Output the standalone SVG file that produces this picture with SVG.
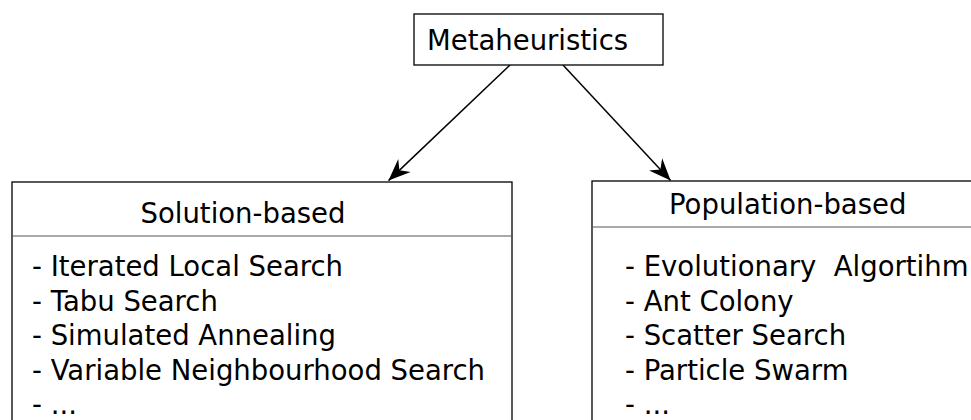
<svg xmlns="http://www.w3.org/2000/svg" width="971" height="420" viewBox="0 0 971 420">
<style>
.box{fill:#fff;stroke:#000;stroke-width:1.3}
.div{stroke:#555;stroke-width:1}
.t{font-family:"DejaVu Sans",sans-serif;font-size:27.5px;fill:#000}
.c{text-anchor:middle}
.con{stroke:#000;stroke-width:1.5;fill:none}
</style>
<defs>
<marker id="ah" markerUnits="userSpaceOnUse" viewBox="-24 -12 26 24" refX="0" refY="0" markerWidth="26" markerHeight="24" orient="auto">
<path d="M0,0 L-22,-9 L-15,0 L-22,9 Z" fill="#000"/>
</marker>
</defs>
<rect width="971" height="420" fill="#fff"/>
<g id="connectors">
<line class="con" x1="510" y1="65" x2="388.5" y2="180.6" marker-end="url(#ah)"/>
<line class="con" x1="563" y1="65" x2="670.6" y2="180.5" marker-end="url(#ah)"/>
</g>
<g id="metaheuristics">
<rect class="box" x="414" y="14" width="249" height="51"/>
<text class="t" x="427" y="50">Metaheuristics</text>
</g>
<g id="solution-based">
<rect class="box" x="12" y="182" width="500" height="250"/>
<line class="div" x1="12" y1="236" x2="512" y2="236"/>
<text class="t c" x="243" y="223">Solution-based</text>
<text class="t" x="32" y="276">- Iterated Local Search</text>
<text class="t" x="32" y="310.5">- Tabu Search</text>
<text class="t" x="32" y="345">- Simulated Annealing</text>
<text class="t" x="32" y="379.5">- Variable Neighbourhood Search</text>
<text class="t" x="32" y="414">- ...</text>
</g>
<g id="population-based">
<rect class="box" x="592" y="181" width="400" height="250"/>
<line class="div" x1="592" y1="227" x2="971" y2="227"/>
<text class="t" x="669" y="214">Population-based</text>
<text class="t" x="625" y="276" xml:space="preserve">- Evolutionary  Algortihm</text>
<text class="t" x="625" y="310.5">- Ant Colony</text>
<text class="t" x="625" y="345">- Scatter Search</text>
<text class="t" x="625" y="379.5">- Particle Swarm</text>
<text class="t" x="625" y="414">- ...</text>
</g>
</svg>
